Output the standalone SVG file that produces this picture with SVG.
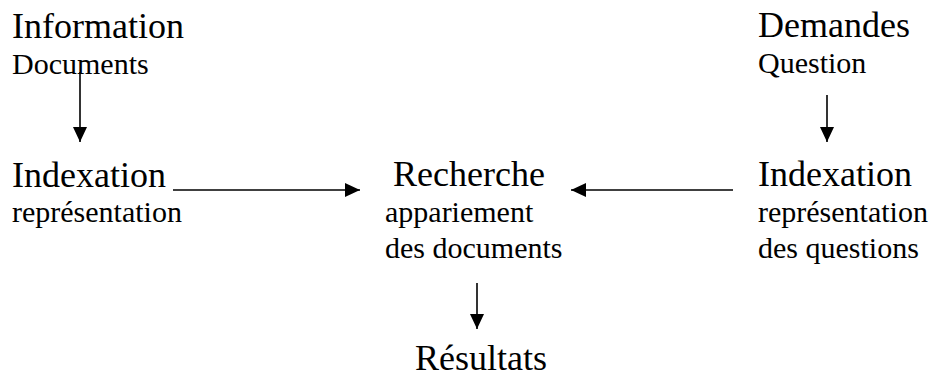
<svg xmlns="http://www.w3.org/2000/svg" width="936" height="374" viewBox="0 0 936 374">
<style>
  .big { font-family: "Liberation Serif", "Times New Roman", serif; font-size: 36px; fill: #000; }
  .small { font-family: "Liberation Serif", "Times New Roman", serif; font-size: 30px; fill: #000; }
  .conn { stroke: #000; stroke-width: 1.6; fill: none; marker-end: url(#arrow); }
</style>
<defs>
  <marker id="arrow" markerUnits="userSpaceOnUse" markerWidth="16" markerHeight="14" refX="15" refY="7" orient="auto">
    <path d="M0,0 L15,7 L0,14 z" fill="#000"/>
  </marker>
</defs>
<rect width="936" height="374" fill="#fff"/>
<g id="information">
  <text class="big" x="12" y="38">Information</text>
  <text class="small" x="12" y="74">Documents</text>
</g>
<g id="demandes">
  <text class="big" x="758" y="37">Demandes</text>
  <text class="small" x="758" y="73">Question</text>
</g>
<g id="indexation-docs">
  <text class="big" x="12" y="187">Indexation</text>
  <text class="small" x="12" y="222">représentation</text>
</g>
<g id="recherche">
  <text class="big" x="393" y="186">Recherche</text>
  <text class="small" x="385" y="222">appariement</text>
  <text class="small" x="385" y="258">des documents</text>
</g>
<g id="indexation-questions">
  <text class="big" x="758" y="186">Indexation</text>
  <text class="small" x="758" y="222">représentation</text>
  <text class="small" x="758" y="258">des questions</text>
</g>
<g id="resultats">
  <text class="big" x="415" y="370">Résultats</text>
</g>
<g id="connectors">
  <line class="conn" x1="80" y1="72" x2="80" y2="142"/>
  <line class="conn" x1="827" y1="95" x2="827" y2="142"/>
  <line class="conn" x1="173" y1="190" x2="360" y2="190"/>
  <line class="conn" x1="733" y1="190" x2="571" y2="190"/>
  <line class="conn" x1="477" y1="283" x2="477" y2="329"/>
</g>
</svg>
